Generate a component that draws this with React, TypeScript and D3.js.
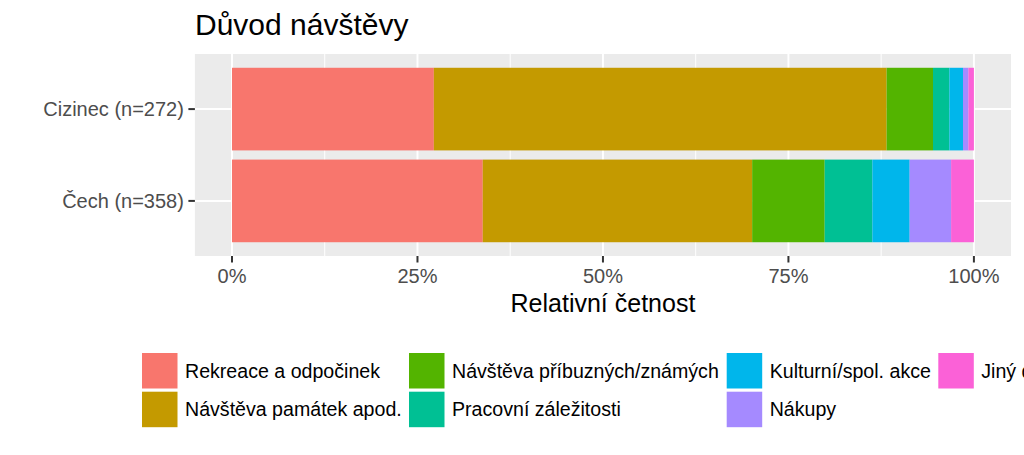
import * as d3 from 'd3'

// Groups (top to bottom) and answer categories (stack order, left to right)
const GROUPS = ['Cizinec (n=272)', 'Čech (n=358)']
const REASONS = [
  'Rekreace a odpočinek',
  'Návštěva památek apod.',
  'Návštěva příbuzných/známých',
  'Pracovní záležitosti',
  'Kulturní/spol. akce',
  'Nákupy',
  'Jiný důvod',
]
// counts per reason, same order as REASONS
const CIZINEC = [74, 166, 17, 6, 5, 2, 2]
const CECH = [121, 130, 35, 23, 18, 20, 11]
const COUNTS = [CIZINEC, CECH]

const COLORS = ['#F8766D', '#C49A00', '#53B400', '#00C094', '#00B6EB', '#A58AFF', '#FB61D7']
const X_TICKS = [0, 0.25, 0.5, 0.75, 1]
const X_MINOR = [0.125, 0.375, 0.625, 0.875]

const W = 1024
const H = 455
const PANEL = { left: 194.9, right: 1011, top: 54, bottom: 256 }
const FONT = '"Liberation Sans", Arial, sans-serif'

// legend layout: column x positions, filled by column in two rows
const LEGEND_COLS = [142, 409, 726.7, 938.3]
const LEGEND_ROWS = [353, 391.7]
const KEY = 35.5

export default function App() {
  const span = PANEL.right - PANEL.left
  const x = d3.scaleLinear()
    .domain([0, 1])
    .range([PANEL.left + span * 0.05 / 1.1, PANEL.right - span * 0.05 / 1.1])

  const y = d3.scaleBand<string>()
    .domain(GROUPS)
    .range([PANEL.top, PANEL.bottom])
    .paddingInner(0.1)
    .paddingOuter(0.15)

  const stacked = GROUPS.map((g, gi) => {
    const vals = COUNTS[gi]
    const total = d3.sum(vals)
    let acc = 0
    return vals.map((v, i) => {
      const s = acc / total
      acc += v
      return { group: g, reason: REASONS[i], x0: s, x1: acc / total, color: COLORS[i] }
    })
  })

  return (
    <svg width={W} height={H} style={{ position: 'absolute', left: 0, top: 0, background: '#fff' }} fontFamily={FONT}>
      <text x={195} y={35} fontSize={30} fill="#000">Důvod návštěvy</text>

      {/* panel */}
      <rect x={PANEL.left} y={PANEL.top} width={span} height={PANEL.bottom - PANEL.top} fill="#EBEBEB" />
      {X_MINOR.map(t => (
        <line key={'m' + t} x1={x(t)} x2={x(t)} y1={PANEL.top} y2={PANEL.bottom} stroke="#fff" strokeWidth={1} />
      ))}
      {X_TICKS.map(t => (
        <line key={'g' + t} x1={x(t)} x2={x(t)} y1={PANEL.top} y2={PANEL.bottom} stroke="#fff" strokeWidth={2} />
      ))}
      {GROUPS.map(g => (
        <line key={'gy' + g} x1={PANEL.left} x2={PANEL.right} y1={y(g)! + y.bandwidth() / 2} y2={y(g)! + y.bandwidth() / 2} stroke="#fff" strokeWidth={2} />
      ))}

      {stacked.flat().map(d => (
        <rect key={d.group + d.reason} x={x(d.x0)} y={y(d.group)} width={x(d.x1) - x(d.x0)} height={y.bandwidth()} fill={d.color} />
      ))}

      {/* y axis */}
      {GROUPS.map(g => {
        const cy = y(g)! + y.bandwidth() / 2
        return (
          <g key={'ya' + g}>
            <line x1={PANEL.left - 6.5} x2={PANEL.left} y1={cy} y2={cy} stroke="#333" strokeWidth={2} />
            <text x={PANEL.left - 11} y={cy} dy="0.35em" textAnchor="end" fontSize={20} fill="#4D4D4D">{g}</text>
          </g>
        )
      })}

      {/* x axis */}
      {X_TICKS.map(t => (
        <g key={'xa' + t}>
          <line x1={x(t)} x2={x(t)} y1={PANEL.bottom} y2={PANEL.bottom + 6.5} stroke="#333" strokeWidth={2} />
          <text x={x(t)} y={283} textAnchor="middle" fontSize={20} fill="#4D4D4D">{d3.format('.0%')(t)}</text>
        </g>
      ))}
      <text x={(PANEL.left + PANEL.right) / 2} y={312} textAnchor="middle" fontSize={25} fill="#000">Relativní četnost</text>

      {/* legend */}
      {REASONS.map((r, i) => {
        const lx = LEGEND_COLS[Math.floor(i / 2)]
        const ly = LEGEND_ROWS[i % 2]
        return (
          <g key={'lg' + r}>
            <rect x={lx} y={ly} width={KEY} height={KEY} fill={COLORS[i]} />
            <text x={lx + KEY + 7.5} y={ly + KEY / 2} dy="0.35em" fontSize={19.6} fill="#000">{r}</text>
          </g>
        )
      })}
    </svg>
  )
}
